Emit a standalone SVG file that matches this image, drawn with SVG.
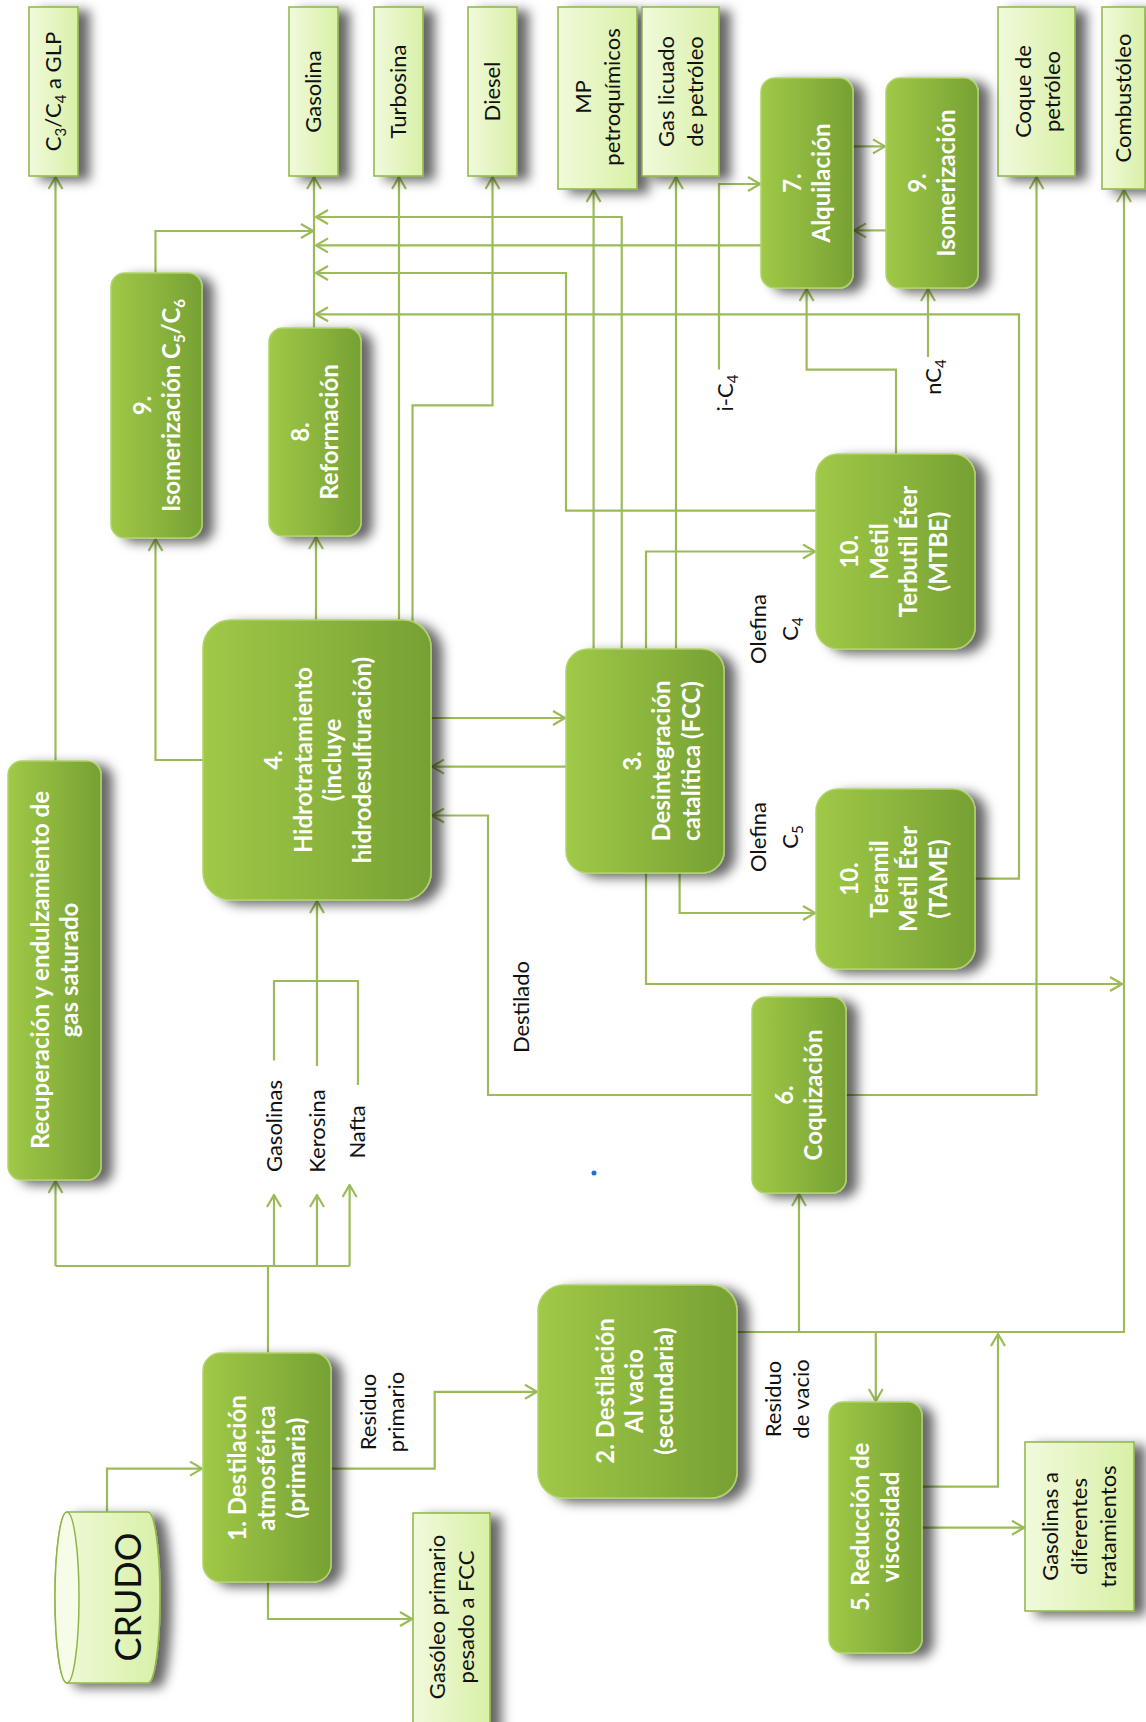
<svg xmlns="http://www.w3.org/2000/svg" width="1146" height="1722" viewBox="0 0 1146 1722">
<defs>
<linearGradient id="gProc" x1="0" y1="0" x2="1" y2="0">
<stop offset="0" stop-color="#a0c947"/>
<stop offset="1" stop-color="#76a133"/>
</linearGradient>
<linearGradient id="gOut" x1="0" y1="0" x2="1" y2="0">
<stop offset="0" stop-color="#f1fadc"/>
<stop offset="1" stop-color="#d8f0a6"/>
</linearGradient>
<filter id="sh" x="-30%" y="-15%" width="200%" height="140%">
<feDropShadow dx="11" dy="4" stdDeviation="6" flood-color="#000" flood-opacity="0.6"/>
</filter>
<marker id="ah" viewBox="0 0 14 16" refX="13" refY="8" markerWidth="14" markerHeight="16" markerUnits="userSpaceOnUse" orient="auto">
<path d="M1,1 L13,8 L1,15" fill="none" stroke="#9bbb59" stroke-width="2.2"/>
</marker>
<style>
.conn{fill:none;stroke:#9bbb59;stroke-width:2.2}
.arr{marker-end:url(#ah)}
.proc rect{fill:url(#gProc);stroke:#afd36a;stroke-width:1.5;filter:url(#sh)}
.out rect,.out path{fill:url(#gOut);stroke:#8fb548;stroke-width:1.5;filter:url(#sh)}
.pt{font-family:Lato,"Liberation Sans",sans-serif;font-weight:700;font-size:24px;fill:#fff;text-anchor:middle}
.ot{font-family:Lato,"Liberation Sans",sans-serif;font-size:22px;fill:#111;text-anchor:middle}
.sb{font-size:15px}
</style>
</defs>
<rect width="1146" height="1722" fill="#fff"/>

<g id="connectors">
<path class="conn arr" d="M55.5,761 V177"/>
<path class="conn arr" d="M155.5,273 V231 H313"/>
<path class="conn arr" d="M314,328 V177"/>
<path class="conn arr" d="M621.7,649 V217 H316"/>
<path class="conn arr" d="M761,245.4 H316"/>
<path class="conn arr" d="M816,510.7 H566 V273 H316"/>
<path class="conn arr" d="M975,878.7 H1019 V314.3 H316"/>
<path class="conn arr" d="M399,620 V177"/>
<path class="conn arr" d="M412.5,624 V405.4 H492.5 V177"/>
<path class="conn arr" d="M593.6,649 V190"/>
<path class="conn arr" d="M676,649 V177"/>
<path class="conn arr" d="M646,649 V551.5 H815"/>
<path class="conn arr" d="M719,369.6 V184 H760"/>
<path class="conn arr" d="M896,454 V369.6 H806.6 V289"/>
<path class="conn arr" d="M928,357 V289"/>
<path class="conn arr" d="M853,146.4 H885"/>
<path class="conn arr" d="M886,230.4 H854"/>
<path class="conn arr" d="M846,1095 H1036.5 V177"/>
<path class="conn arr" d="M737,1332 H1124 V190"/>
<path class="conn arr" d="M646,873 V984 H1122"/>
<path class="conn arr" d="M679.6,873 V913 H815"/>
<path class="conn arr" d="M431,718 H565"/>
<path class="conn arr" d="M566,766.6 H432"/>
<path class="conn arr" d="M752,1095 H488 V815.5 H432"/>
<path class="conn arr" d="M203,760 H155.5 V539"/>
<path class="conn arr" d="M316,620 V537"/>
<path class="conn" d="M274,1060.5 V981 H358 V1085"/>
<path class="conn arr" d="M317,1066 V901"/>
<path class="conn arr" d="M107,1512 V1468.6 H202"/>
<path class="conn" d="M268,1353 V1266 M55.5,1266 H349.6"/>
<path class="conn arr" d="M55.5,1266 V1181"/>
<path class="conn arr" d="M274,1266 V1195"/>
<path class="conn arr" d="M317,1266 V1195"/>
<path class="conn arr" d="M349.6,1266 V1185"/>
<path class="conn arr" d="M331,1468.6 H434.7 V1391.8 H537"/>
<path class="conn arr" d="M268,1582.6 V1619 H412"/>
<path class="conn arr" d="M799,1332 V1194"/>
<path class="conn arr" d="M875.8,1332 V1401"/>
<path class="conn arr" d="M922,1486.6 H998 V1334"/>
<path class="conn arr" d="M922,1527.7 H1024"/>
</g>

<g id="n-glp" class="out"><rect x="29" y="7" width="49" height="169"/>
<g transform="translate(53.5 91.5) rotate(-90)"><text class="ot" y="7.7">C<tspan class="sb" dy="5">3</tspan><tspan dy="-5">/C</tspan><tspan class="sb" dy="5">4</tspan><tspan dy="-5"> a GLP</tspan></text></g></g>
<g id="n-gasolina" class="out"><rect x="289" y="7" width="49" height="169"/>
<g transform="translate(313.5 91.5) rotate(-90)"><text class="ot" y="7.7">Gasolina</text></g></g>
<g id="n-turbosina" class="out"><rect x="374" y="7" width="49" height="169"/>
<g transform="translate(398.5 91.5) rotate(-90)"><text class="ot" y="7.7">Turbosina</text></g></g>
<g id="n-diesel" class="out"><rect x="468" y="7" width="49" height="169"/>
<g transform="translate(492.5 91.5) rotate(-90)"><text class="ot" y="7.7">Diesel</text></g></g>
<g id="n-mp" class="out"><rect x="558" y="7" width="79" height="182"/>
<g transform="translate(598 97) rotate(-90)"><text class="ot"><tspan x="0" y="-6.8">MP</tspan><tspan x="0" y="22.2">petroquímicos</tspan></text></g></g>
<g id="n-gaslic" class="out"><rect x="642" y="7" width="77" height="169"/>
<g transform="translate(680.5 91.5) rotate(-90)"><text class="ot"><tspan x="0" y="-6.8">Gas licuado</tspan><tspan x="0" y="22.2">de petróleo</tspan></text></g></g>
<g id="n-coque" class="out"><rect x="998" y="7" width="77" height="169"/>
<g transform="translate(1038 91.5) rotate(-90)"><text class="ot"><tspan x="0" y="-6.8">Coque de</tspan><tspan x="0" y="22.2">petróleo</tspan></text></g></g>
<g id="n-combustoleo" class="out"><rect x="1102" y="7" width="43" height="182"/>
<g transform="translate(1123 98) rotate(-90)"><text class="ot" y="7.7">Combustóleo</text></g></g>
<g id="n-gasoleo" class="out"><rect x="413" y="1513" width="77" height="220"/>
<g transform="translate(452 1617) rotate(-90)"><text class="ot"><tspan x="0" y="-6.8">Gasóleo primario</tspan><tspan x="0" y="22.2">pesado a FCC</tspan></text></g></g>
<g id="n-gasdif" class="out"><rect x="1025" y="1442" width="109" height="169"/>
<g transform="translate(1079.5 1526.5) rotate(-90)"><text class="ot"><tspan x="0" y="-21.3">Gasolinas a</tspan><tspan x="0" y="7.7">diferentes</tspan><tspan x="0" y="36.7">tratamientos</tspan></text></g></g>

<g id="n-crudo" class="out">
<path d="M67,1512 H148 A12,85.5 0 0 1 148,1683 H67 A12,85.5 0 0 1 67,1512 Z"/>
<ellipse cx="67" cy="1597.5" rx="12" ry="85.5" fill="#f6fce8" stroke="#8fb548" stroke-width="1.5"/>
<g transform="translate(128 1597) rotate(-90)"><text class="ot" style="font-size:36px" y="12.6">CRUDO</text></g></g>

<g id="n-alq" class="proc"><rect x="761" y="78" width="92" height="210" rx="14"/>
<g transform="translate(807 183) rotate(-90)"><text class="pt"><tspan x="0" y="-6.35">7.</tspan><tspan x="0" y="23.15">Alquilación</tspan></text></g></g>
<g id="n-isom" class="proc"><rect x="886" y="78" width="92" height="210" rx="14"/>
<g transform="translate(932 183) rotate(-90)"><text class="pt"><tspan x="0" y="-6.35">9.</tspan><tspan x="0" y="23.15">Isomerización</tspan></text></g></g>
<g id="n-isomc5" class="proc"><rect x="111" y="273" width="91" height="265" rx="14"/>
<g transform="translate(157 405.5) rotate(-90)"><text class="pt"><tspan x="0" y="-6.35">9.</tspan><tspan x="0" y="23.15">Isomerización C<tspan class="sb" dy="5">5</tspan><tspan dy="-5">/C</tspan><tspan class="sb" dy="5">6</tspan></tspan></text></g></g>
<g id="n-reform" class="proc"><rect x="269" y="328" width="92" height="208" rx="14"/>
<g transform="translate(315 432) rotate(-90)"><text class="pt"><tspan x="0" y="-6.35">8.</tspan><tspan x="0" y="23.15">Reformación</tspan></text></g></g>
<g id="n-mtbe" class="proc"><rect x="816" y="454" width="159" height="195" rx="22"/>
<g transform="translate(894 551.5) rotate(-90)"><text class="pt"><tspan x="0" y="-35.85">10.</tspan><tspan x="0" y="-6.35">Metil</tspan><tspan x="0" y="23.15">Terbutil Éter</tspan><tspan x="0" y="52.65">(MTBE)</tspan></text></g></g>
<g id="n-hidro" class="proc"><rect x="203" y="620" width="228" height="280" rx="28"/>
<g transform="translate(318 760) rotate(-90)"><text class="pt"><tspan x="0" y="-35.85">4.</tspan><tspan x="0" y="-6.35">Hidrotratamiento</tspan><tspan x="0" y="23.15">(incluye</tspan><tspan x="0" y="52.65">hidrodesulfuración)</tspan></text></g></g>
<g id="n-fcc" class="proc"><rect x="566" y="649" width="158" height="224" rx="22"/>
<g transform="translate(662 761) rotate(-90)"><text class="pt"><tspan x="0" y="-21.1">3.</tspan><tspan x="0" y="8.4">Desintegración</tspan><tspan x="0" y="37.9">catalítica (FCC)</tspan></text></g></g>
<g id="n-tame" class="proc"><rect x="816" y="789" width="159" height="180" rx="22"/>
<g transform="translate(894 879) rotate(-90)"><text class="pt"><tspan x="0" y="-35.85">10.</tspan><tspan x="0" y="-6.35">Teramil</tspan><tspan x="0" y="23.15">Metil Éter</tspan><tspan x="0" y="52.65">(TAME)</tspan></text></g></g>
<g id="n-recup" class="proc"><rect x="8" y="761" width="93" height="419" rx="14"/>
<g transform="translate(55 970) rotate(-90)"><text class="pt"><tspan x="0" y="-6.35">Recuperación y endulzamiento de</tspan><tspan x="0" y="23.15">gas saturado</tspan></text></g></g>
<g id="n-coq" class="proc"><rect x="752" y="997" width="94" height="196" rx="14"/>
<g transform="translate(799 1095) rotate(-90)"><text class="pt"><tspan x="0" y="-6.35">6.</tspan><tspan x="0" y="23.15">Coquización</tspan></text></g></g>
<g id="n-dest1" class="proc"><rect x="203" y="1353" width="128" height="229" rx="18"/>
<g transform="translate(267 1468) rotate(-90)"><text class="pt"><tspan x="0" y="-21.1">1. Destilación</tspan><tspan x="0" y="8.4">atmosférica</tspan><tspan x="0" y="37.9">(primaria)</tspan></text></g></g>
<g id="n-dest2" class="proc"><rect x="538" y="1285" width="199" height="213" rx="26"/>
<g transform="translate(635 1391) rotate(-90)"><text class="pt"><tspan x="0" y="-21.1">2. Destilación</tspan><tspan x="0" y="8.4">Al vacio</tspan><tspan x="0" y="37.9">(secundaria)</tspan></text></g></g>
<g id="n-reduc" class="proc"><rect x="829" y="1402" width="93" height="251" rx="14"/>
<g transform="translate(875.5 1527) rotate(-90)"><text class="pt"><tspan x="0" y="-6.35">5. Reducción de</tspan><tspan x="0" y="23.15">viscosidad</tspan></text></g></g>

<g id="labels">
<g transform="translate(274 1126) rotate(-90)"><text class="ot" y="7.7">Gasolinas</text></g>
<g transform="translate(317 1131) rotate(-90)"><text class="ot" y="7.7">Kerosina</text></g>
<g transform="translate(357 1132) rotate(-90)"><text class="ot" y="7.7">Nafta</text></g>
<g transform="translate(521.6 1007) rotate(-90)"><text class="ot" y="7.7">Destilado</text></g>
<g transform="translate(774 629) rotate(-90)"><text class="ot"><tspan x="0" y="-8.3">Olefina</tspan><tspan x="0" y="23.7">C<tspan class="sb" dy="5">4</tspan></tspan></text></g>
<g transform="translate(774 837) rotate(-90)"><text class="ot"><tspan x="0" y="-8.3">Olefina</tspan><tspan x="0" y="23.7">C<tspan class="sb" dy="5">5</tspan></tspan></text></g>
<g transform="translate(725 393) rotate(-90)"><text class="ot" y="7.7">i-C<tspan class="sb" dy="5">4</tspan></text></g>
<g transform="translate(933.5 377) rotate(-90)"><text class="ot" y="7.7">nC<tspan class="sb" dy="5">4</tspan></text></g>
<g transform="translate(382 1412) rotate(-90)"><text class="ot"><tspan x="0" y="-6.3">Residuo</tspan><tspan x="0" y="21.7">primario</tspan></text></g>
<g transform="translate(787 1399) rotate(-90)"><text class="ot"><tspan x="0" y="-6.3">Residuo</tspan><tspan x="0" y="21.7">de vacio</tspan></text></g>
</g>
<circle cx="594" cy="1173" r="2.5" fill="#1f6fd0"/>
</svg>
